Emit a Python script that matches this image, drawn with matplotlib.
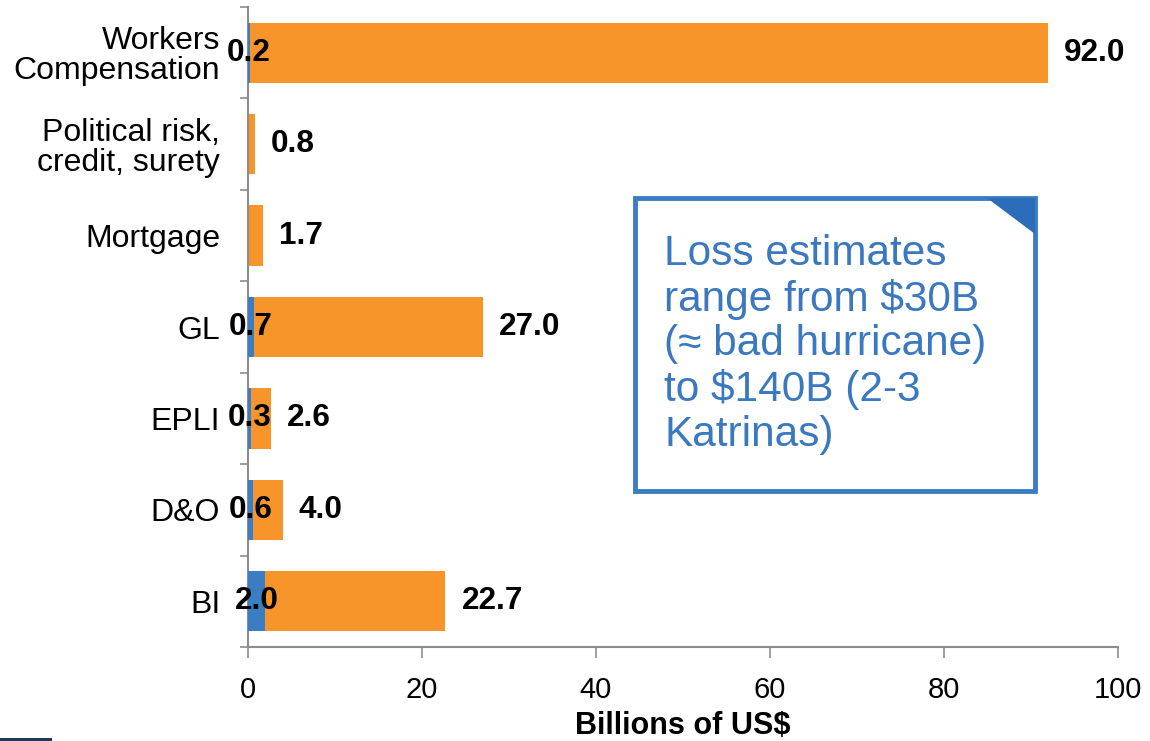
import matplotlib
matplotlib.use("Agg")
import matplotlib.pyplot as plt
import numpy as np
from matplotlib.patches import Rectangle, Polygon

plt.rcParams['font.family'] = ['Liberation Sans', 'DejaVu Sans']

# loss estimates per line of business, billions of US$ (bottom to top)
categories = ["BI", "D&O", "EPLI", "GL", "Mortgage",
              "Political risk,\ncredit, surety", "Workers\nCompensation"]
low_est = [2.0, 0.6, 0.3, 0.7, 0.0, 0.0, 0.2]
high_est = [22.7, 4.0, 2.6, 27.0, 1.7, 0.8, 92.0]
x_ticks = [0, 20, 40, 60, 80, 100]

ORANGE = "#F7942A"
BLUE = "#3A7DC2"
AXIS_GRAY = "#8C8C8C"

fig = plt.figure(figsize=(11.5, 7.41), dpi=100)
ax = fig.add_axes([248 / 1150, 1 - 647 / 741, 870 / 1150, 640 / 741])

y = np.arange(len(categories))
ax.barh(y, high_est, height=0.66, color=ORANGE, zorder=2)
ax.barh(y, low_est, height=0.66, color=BLUE, zorder=3)

for yi, lo, hi in zip(y, low_est, high_est):
    ax.annotate(f"{hi:.1f}", xy=(hi, yi), xytext=(11.5, 0),
                textcoords="offset points", ha="left", va="center",
                fontsize=22.7, fontweight="bold", color="black", zorder=5)
    if lo > 0:
        ax.text(lo / 2, yi, f"{lo:.1f}", ha="center", va="center",
                fontsize=22.7, fontweight="bold", color="black", zorder=5)

ax.set_xlim(0, 100)
ax.set_ylim(-0.5, len(categories) - 0.5)
ax.set_xticks(x_ticks)
ax.set_xticklabels([str(t) for t in x_ticks])
ax.tick_params(axis="x", length=8, width=1.2, color=AXIS_GRAY,
               labelsize=21, pad=13)

# boundary ticks between categories, labels sit at category centres
ax.set_yticks(np.arange(-0.5, len(categories), 1.0))
ax.set_yticklabels([])
ax.set_yticks(y, minor=True)
ax.set_yticklabels(categories, minor=True, fontsize=23, linespacing=1.0)
ax.tick_params(axis="y", which="major", length=6, width=1.2, color=AXIS_GRAY)
ax.tick_params(axis="y", which="minor", length=0, pad=20)

for side in ["top", "right"]:
    ax.spines[side].set_visible(False)
for side in ["left", "bottom"]:
    ax.spines[side].set_color(AXIS_GRAY)
    ax.spines[side].set_linewidth(1.5)

ax.set_xlabel("Billions of US$", fontsize=22, fontweight="bold", labelpad=5)

# callout box with folded corner
bx0, by0, bw, bh = 635 / 1150, 1 - 491 / 741, 400 / 1150, 293 / 741
fig.patches.append(Rectangle((bx0, by0), bw, bh, transform=fig.transFigure,
                             facecolor="white", edgecolor="#3B7DC4",
                             linewidth=3.5, zorder=10))
fold = Polygon([(987 / 1150, 1 - 198 / 741), (1035 / 1150, 1 - 198 / 741),
                (1035 / 1150, 1 - 234 / 741)], closed=True,
               transform=fig.transFigure, facecolor="#2B6DB8",
               edgecolor="none", zorder=11)
fig.patches.append(fold)
fig.text(664 / 1150, 1 - 234 / 741,
         "Loss estimates\nrange from $30B\n(\u2248 bad hurricane)\nto $140B (2-3\nKatrinas)",
         ha="left", va="top", fontsize=30.5, color="#3A78C0",
         linespacing=1.15, zorder=12)

# small footer rule
fig.patches.append(Rectangle((0, 0), 52 / 1150, 3 / 741, transform=fig.transFigure,
                             facecolor="#1F3A5C", edgecolor="none"))

fig.savefig("out.png", dpi=100)
